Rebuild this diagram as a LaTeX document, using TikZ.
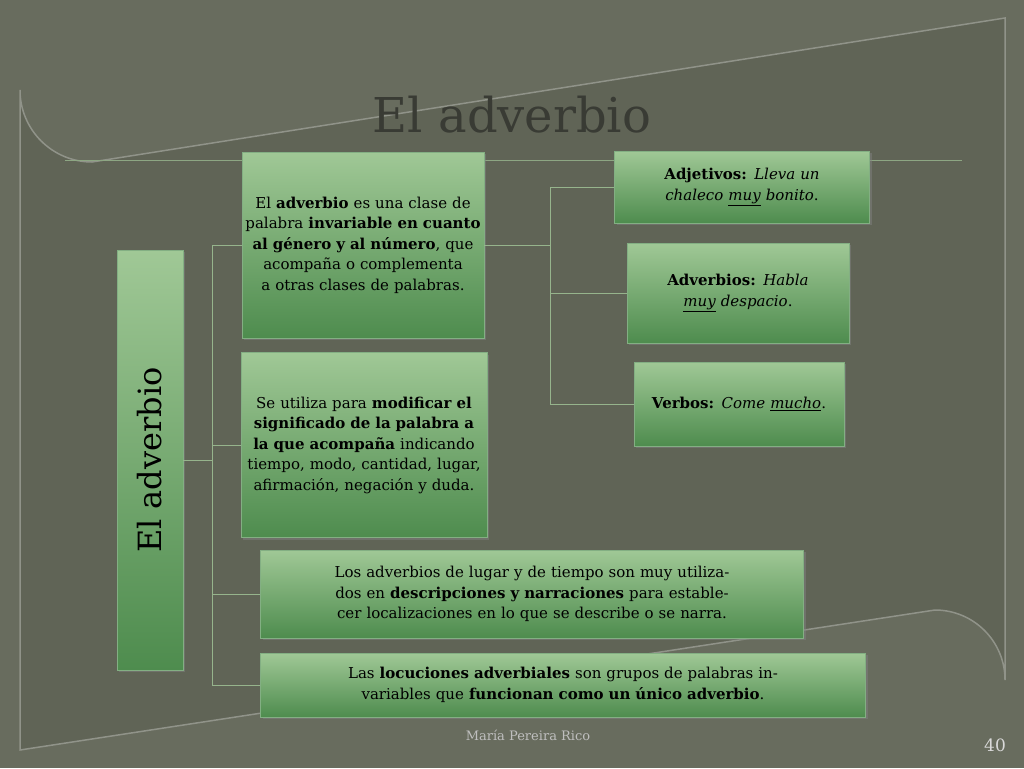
\documentclass[tikz,border=0pt]{standalone}
\usepackage{fontspec}
\setmainfont{DejaVu Serif}
\newcommand{\ul}[1]{\underline{#1}}
\usetikzlibrary{shadows}
\definecolor{bg}{RGB}{104,108,94}
\definecolor{panel}{RGB}{96,100,86}
\definecolor{gtop}{RGB}{160,200,150}
\definecolor{gbot}{RGB}{78,140,78}
\definecolor{conn}{RGB}{150,180,140}
\tikzset{
 gbox/.style={draw=gbot!70!white, line width=0.6pt, top color=gtop, bottom color=gbot, align=center, inner sep=2pt,
   font=\fontsize{15}{20.5}\selectfont, text=black, drop shadow={opacity=0.5,shadow xshift=2pt,shadow yshift=-2pt}},
 conn/.style={draw=conn, line width=0.6pt}
}
\begin{document}
\begin{tikzpicture}[x=1pt,y=-1pt]
\useasboundingbox (0,0) rectangle (1024,768);
\fill[bg] (0,0) rectangle (1024,768);
\draw[panel!70!white, line width=1.5pt, fill=panel] (20,750) -- (20,90) arc[start angle=180,end angle=90,radius=72] -- (1005,18) -- (1005,680) arc[start angle=0,end angle=-90,radius=70] -- cycle;
\node (title) [font=\fontsize{48}{54}\selectfont, text=bg!55!black] at (512,115) {El adverbio};
\draw[conn, draw=conn!80!bg] (65,160) -- (962,160);

\node (v) [gbox, minimum width=66pt, minimum height=420pt] at (150,460) {};
\node (vt) [rotate=90, font=\fontsize{32}{36}\selectfont] at (v.center) {El adverbio};
\node (b1) [gbox, text width=238pt, minimum height=186pt] at (363,245) {El \textbf{adverbio} es una clase de palabra \textbf{invariable en cuanto al género y al número}, que acompaña o complementa a otras clases de palabras.};
\node (b2) [gbox, text width=242pt, minimum height=185pt] at (364,445) {Se utiliza para \textbf{modificar el significado de la palabra a la que acompaña} indicando tiempo, modo, cantidad, lugar, afirmación, negación y duda.};
\node (b3) [gbox, text width=539pt, minimum height=88pt] at (532,594) {Los adverbios de lugar y de tiempo son muy utilizados en \textbf{descripciones y narraciones} para establecer localizaciones en lo que se describe o se narra.};
\node (b4) [gbox, text width=601pt, minimum height=64pt] at (563,685) {Las \textbf{locuciones adverbiales} son grupos de palabras invariables que \textbf{funcionan como un único adverbio}.};
\node (a1) [gbox, text width=251pt, minimum height=72pt] at (742,187) {\textbf{Adjetivos:} \textit{Lleva un chaleco \ul{muy} bonito}.};
\node (a2) [gbox, text width=218pt, minimum height=100pt] at (738,293) {\textbf{Adverbios:} \textit{Habla \ul{muy} despacio}.};
\node (a3) [gbox, text width=206pt, minimum height=84pt] at (739,404) {\textbf{Verbos:} \textit{Come \ul{mucho}}.};

\coordinate (j1) at (212,460);
\draw[conn] (v.east) -- (j1);
\draw[conn] (212,245) -- (212,685);
\draw[conn] (212,245) -- (b1.west);
\draw[conn] (212,445) -- (b2.west);
\draw[conn] (212,594) -- (b3.west);
\draw[conn] (212,685) -- (b4.west);
\coordinate (j2) at (550,245);
\draw[conn] (b1.east) -- (j2);
\draw[conn] (550,187) -- (550,404);
\draw[conn] (550,187) -- (a1.west);
\draw[conn] (550,293) -- (a2.west);
\draw[conn] (550,404) -- (a3.west);

\node (foot) [font=\fontsize{13}{15}\selectfont, text=black!25!white] at (528,735) {María Pereira Rico};
\node (num) [font=\fontsize{17}{19}\selectfont, text=black!15!white] at (995,745) {40};
\end{tikzpicture}
\end{document}
